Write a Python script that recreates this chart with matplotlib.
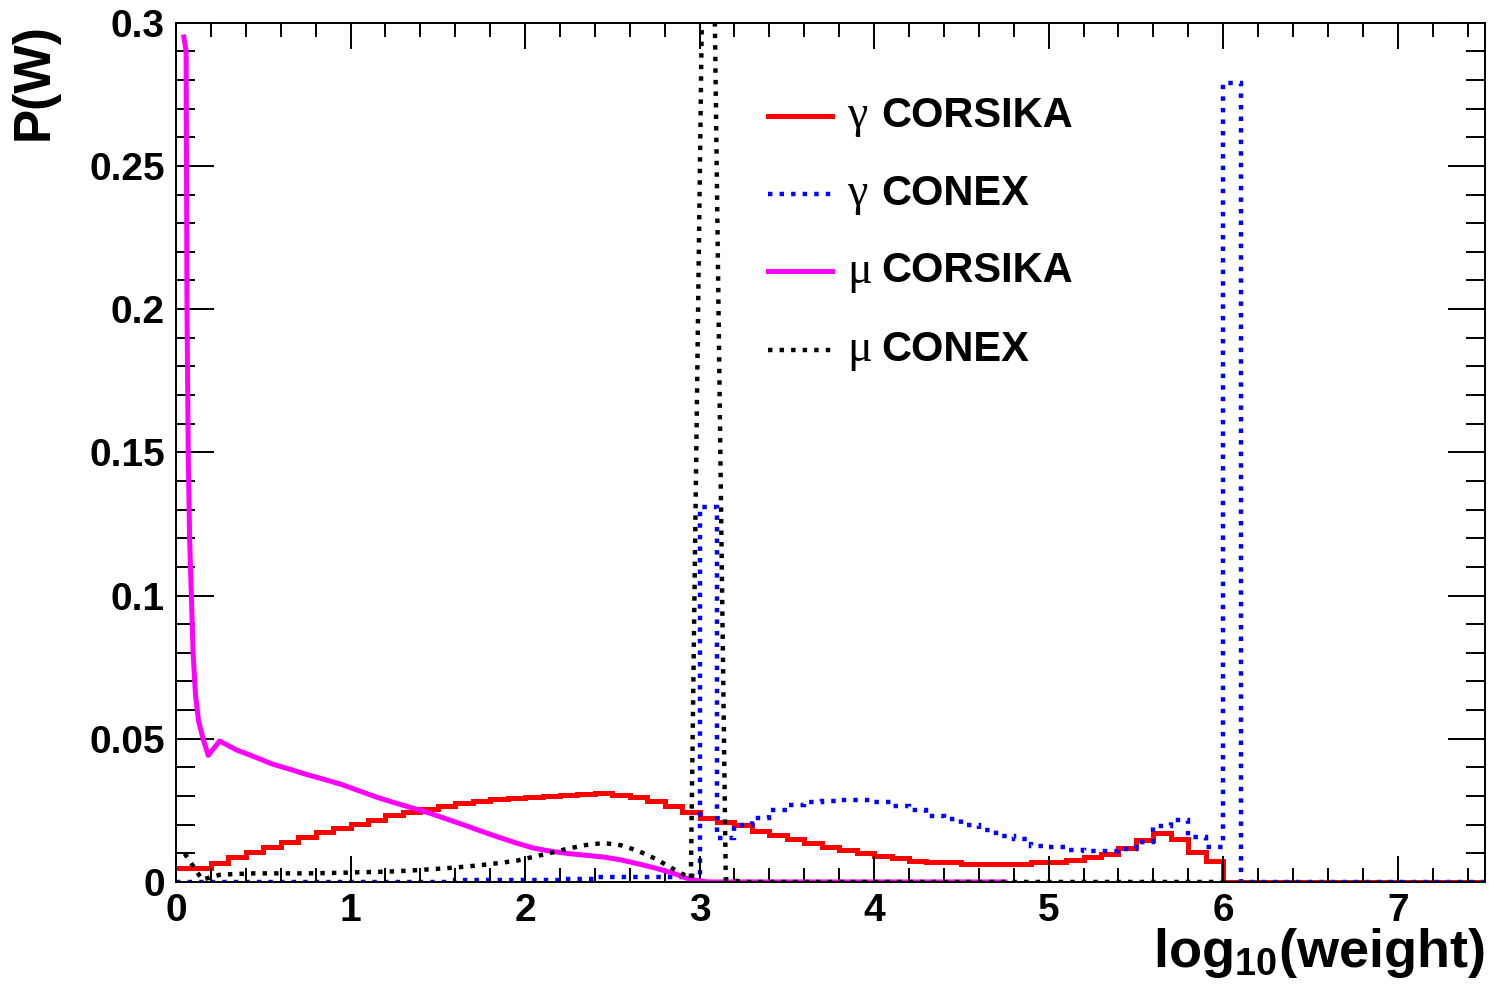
import numpy as np
import matplotlib
matplotlib.use("Agg")
import matplotlib.pyplot as plt
from matplotlib.ticker import MultipleLocator

# histogram binning: 75 bins of 0.1 in log10(weight)
bin_edges = np.round(np.arange(0, 7.51, 0.1), 2)

# gamma CORSIKA (histogram, per bin)
gamma_corsika = [
    0.0049, 0.0049, 0.0066, 0.0087, 0.0105, 0.0122, 0.0140, 0.0157, 0.0173, 0.0189,
    0.0204, 0.0218, 0.0233, 0.0244, 0.0256, 0.0264, 0.0274, 0.0282, 0.0288, 0.0294,
    0.0297, 0.0300, 0.0303, 0.0306, 0.0309, 0.0305, 0.0296, 0.0283, 0.0266, 0.0245,
    0.0222, 0.0211, 0.0199, 0.0179, 0.0164, 0.0150, 0.0135, 0.0123, 0.0112, 0.0100,
    0.0092, 0.0085, 0.0074, 0.0068, 0.0068, 0.0063, 0.0063, 0.0063, 0.0063, 0.0069,
    0.0071, 0.0077, 0.0088, 0.0098, 0.0118, 0.0147, 0.0170, 0.0150, 0.0106, 0.0074,
] + [0.0] * 15

# gamma CONEX (histogram, per bin)
gamma_conex = [0.0] * 16 + [
    0.0006, 0.0006, 0.0006, 0.0006, 0.0006, 0.0006, 0.0010, 0.0010, 0.0017, 0.0017,
    0.0017, 0.0017, 0.0017, 0.0020,
    0.1310, 0.0155, 0.0199, 0.0225, 0.0250, 0.0268, 0.0278, 0.0283, 0.0287, 0.0286,
    0.0280, 0.0265, 0.0251, 0.0230, 0.0219, 0.0199, 0.0182, 0.0162, 0.0150, 0.0125,
    0.0121, 0.0110, 0.0108, 0.0108, 0.0116, 0.0140, 0.0196, 0.0216, 0.0156, 0.0123,
    0.2790,
] + [0.0] * 14

# mu CORSIKA (line)
mu_corsika_x = [0.045, 0.058, 0.063, 0.070, 0.078, 0.088, 0.098, 0.112, 0.130, 0.155,
                0.185, 0.25, 0.35, 0.45, 0.55, 0.65, 0.75, 0.85, 0.95, 1.05,
                1.15, 1.25, 1.35, 1.45, 1.55, 1.65, 1.75, 1.85, 1.95, 2.05,
                2.15, 2.25, 2.35, 2.45, 2.55, 2.65, 2.75, 2.85, 2.95, 3.05,
                3.5, 4.0, 4.5, 4.75]
mu_corsika_y = [0.295, 0.290, 0.200, 0.150, 0.120, 0.100, 0.080, 0.065, 0.056, 0.050,
                0.0442, 0.0492, 0.0460, 0.0437, 0.0412, 0.0394, 0.0375, 0.0358, 0.0340, 0.0318,
                0.0296, 0.0277, 0.0259, 0.0241, 0.0220, 0.0199, 0.0177, 0.0156, 0.0136, 0.0118,
                0.0107, 0.0099, 0.0093, 0.0087, 0.0077, 0.0063, 0.0048, 0.0030, 0.0008, 0.0,
                0.0, 0.0, 0.0, 0.0]

# mu CONEX (line through bin centres)
mu_conex_x = np.round(np.arange(0.05, 6.1, 0.1), 2)
mu_conex_y = [
    0.0099, 0.0008, 0.0025, 0.0028, 0.0030, 0.0030, 0.0030, 0.0030, 0.0031, 0.0032,
    0.0034, 0.0035, 0.0037, 0.0040, 0.0044, 0.0048, 0.0053, 0.0059, 0.0066, 0.0074,
    0.0088, 0.0102, 0.0117, 0.0129, 0.0136, 0.0128, 0.0108, 0.0080, 0.0045, 0.0012,
    0.4800, 0.0010,
] + [0.0] * 29

x_ticks = [0, 1, 2, 3, 4, 5, 6, 7]
y_ticks = [0, 0.05, 0.1, 0.15, 0.2, 0.25, 0.3]
y_ticklabels = ["0", "0.05", "0.1", "0.15", "0.2", "0.25", "0.3"]

legend_labels = [("\u03b3", "CORSIKA"), ("\u03b3", "CONEX"),
                 ("\u03bc", "CORSIKA"), ("\u03bc", "CONEX")]

plt.rcParams["font.family"] = ["Liberation Sans", "DejaVu Sans"]
plt.rcParams["font.weight"] = "bold"
plt.rcParams["mathtext.fontset"] = "custom"
plt.rcParams["mathtext.rm"] = "Liberation Sans:bold"
plt.rcParams["mathtext.default"] = "rm"

fig = plt.figure(figsize=(14.89, 9.96), dpi=100)
ax = fig.add_axes([0.1182, 0.1145, 0.8791, 0.8627])

dot = (0, (1, 1.6))
ax.stairs(gamma_corsika, bin_edges, baseline=None, color="#ff0000", lw=3.6)
ax.stairs(gamma_conex, bin_edges, baseline=None, color="#0000ff", lw=3.2, linestyle=dot)
ax.plot(mu_corsika_x, mu_corsika_y, color="#ff00ff", lw=3.6)
ax.plot(mu_conex_x, mu_conex_y, color="black", lw=3.2, linestyle=dot)

ax.set_xlim(0, 7.5)
ax.set_ylim(0, 0.3)
ax.set_xticks(x_ticks)
ax.set_yticks(y_ticks)
ax.set_yticklabels(y_ticklabels)
ax.xaxis.set_minor_locator(MultipleLocator(0.2))
ax.yaxis.set_minor_locator(MultipleLocator(0.01))

ax.tick_params(axis="both", which="both", direction="in", top=True, right=True,
               width=1.4, labelsize=28)
ax.tick_params(axis="x", which="major", length=19, pad=8)
ax.tick_params(axis="x", which="minor", length=10)
ax.tick_params(axis="y", which="major", length=27, pad=8)
ax.tick_params(axis="y", which="minor", length=13.5)
for lab in ax.get_xticklabels() + ax.get_yticklabels():
    lab.set_fontweight("bold")
for sp in ax.spines.values():
    sp.set_linewidth(1.4)

ax.set_xlabel("log$_{10}$(weight)", fontsize=39, fontweight="bold",
              loc="right", labelpad=-2)
ax.set_ylabel("P(W)", fontsize=37, fontweight="bold", loc="top", labelpad=22)

# legend drawn by hand (no frame, ROOT style)
styles = [dict(color="#ff0000", lw=3.6),
          dict(color="#0000ff", lw=3.2, linestyle=dot),
          dict(color="#ff00ff", lw=3.6),
          dict(color="black", lw=3.2, linestyle=dot)]
rows = [0.8915, 0.8005, 0.7105, 0.6195]
for (greek, name), st, yy in zip(legend_labels, styles, rows):
    ax.plot([0.452, 0.501], [yy, yy], transform=ax.transAxes, clip_on=False, **st)
    ax.text(0.513, yy, greek, transform=ax.transAxes, fontsize=33,
            family=["Liberation Serif", "DejaVu Serif"], fontweight="normal",
            va="center", ha="left")
    ax.text(0.539, yy, name, transform=ax.transAxes, fontsize=30,
            fontweight="bold", va="center", ha="left")

fig.savefig("out.png", dpi=100)
